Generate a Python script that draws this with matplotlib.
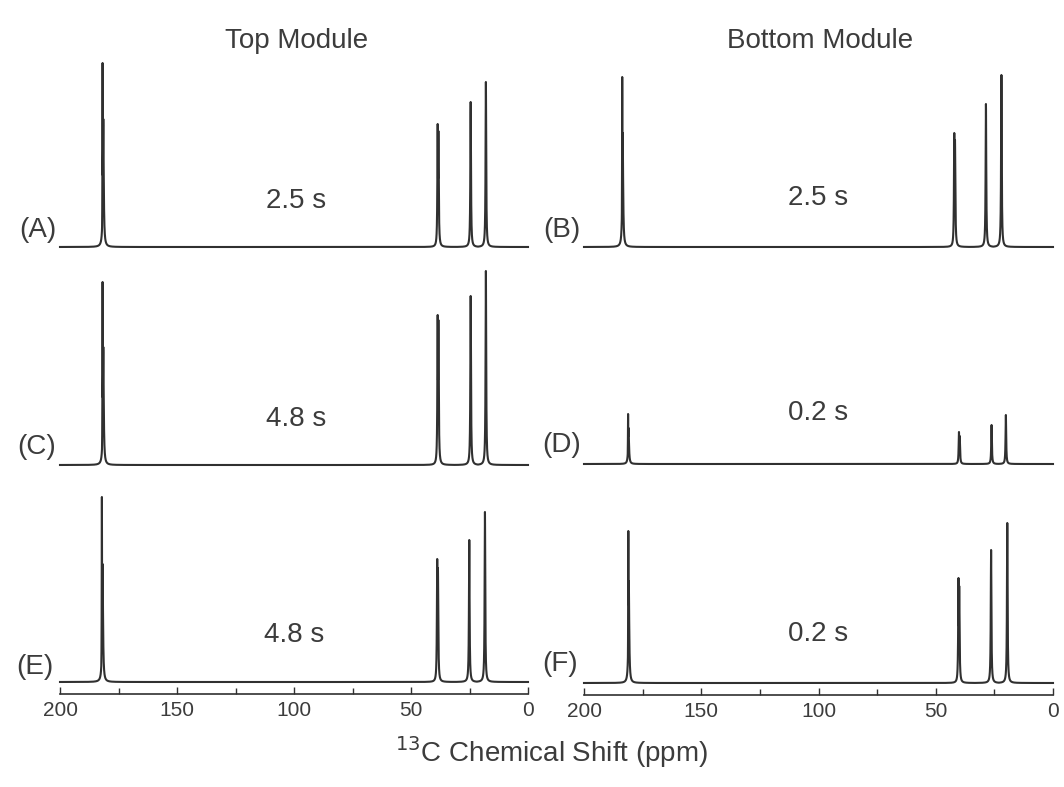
import numpy as np
import matplotlib
matplotlib.use("Agg")
import matplotlib.pyplot as plt
from matplotlib.ticker import MultipleLocator

plt.rcParams['font.family'] = ['Liberation Sans', 'DejaVu Sans']

# ---- data (ppm, apparent intensity) ----
panels = ['A', 'B', 'C', 'D', 'E', 'F']
times = ['2.5 s', '2.5 s', '4.8 s', '0.2 s', '4.8 s', '0.2 s']
col_titles = ['Top Module', 'Bottom Module']

ppm_A = [181.8, 181.5, 38.6, 38.3, 24.5, 18.0]
int_A = [184, 128, 123, 116, 145, 165]
ppm_B = [183.7, 183.5, 42.1, 41.8, 28.6, 22.0]
int_B = [170, 114, 114, 107, 143, 172]
ppm_C = [181.8, 181.5, 38.6, 38.3, 24.5, 18.0]
int_C = [183, 118, 150, 145, 169, 194]
ppm_D = [181.2, 181.0, 40.1, 39.8, 26.2, 20.1]
int_D = [50, 36, 32, 28, 39, 49]
ppm_E = [182.1, 181.8, 38.8, 38.5, 25.1, 18.4]
int_E = [185, 118, 123, 114, 142, 170]
ppm_F = [181.1, 180.9, 40.3, 40.0, 26.4, 19.5]
int_F = [152, 102, 105, 97, 133, 160]

line_width = [0.08, 0.22, 0.16, 0.18, 0.16, 0.16]   # half widths (ppm)

peaks = {'A': (ppm_A, int_A), 'B': (ppm_B, int_B), 'C': (ppm_C, int_C),
         'D': (ppm_D, int_D), 'E': (ppm_E, int_E), 'F': (ppm_F, int_F)}

x_ticks = [200, 150, 100, 50, 0]

# ---- layout (pixels) ----
W, H = 1064, 787
fig = plt.figure(figsize=(W / 100, H / 100), dpi=100)

col_x = [(60, 528), (584, 1053)]
row_base = [[247, 247], [465, 464], [682, 683]]
top_px = 205

ppm = np.linspace(200, 0, 20001)
color = '#303030'
tcolor = '#3c3c3c'

for i, p in enumerate(panels):
    r, c = divmod(i, 2)
    x0, x1 = col_x[c]
    base = row_base[r][c]
    pad = 12 if r == 2 else 6
    rect = [x0 / W, (H - (base + pad)) / H, (x1 - x0) / W, (pad + top_px) / H]
    ax = fig.add_axes(rect)
    pos, amp = peaks[p]
    y = np.zeros_like(ppm)
    for k, (p0, a0) in enumerate(zip(pos, amp)):
        g = line_width[k]
        y = np.maximum(y, a0 * g**2 / ((ppm - p0)**2 + g**2))
    ax.plot(ppm, y, color=color, lw=1.5, clip_on=False)
    ax.set_xlim(200, 0)
    ax.set_ylim(-pad, top_px)
    ax.set_yticks([])
    for s in ['top', 'right', 'left']:
        ax.spines[s].set_visible(False)
    if r == 2:
        ax.spines['bottom'].set_color(color)
        ax.spines['bottom'].set_linewidth(1.2)
        ax.set_xticks(x_ticks)
        ax.set_xticklabels([str(t) for t in x_ticks])
        ax.xaxis.set_minor_locator(MultipleLocator(25))
        ax.tick_params(axis='x', which='major', direction='in', length=5,
                       width=1.0, color=color, labelsize=15, pad=5,
                       labelcolor=tcolor)
        ax.tick_params(axis='x', which='minor', direction='in', length=4,
                       width=1.0, color=color)
    else:
        ax.spines['bottom'].set_visible(False)
        ax.set_xticks([])
    ax.patch.set_alpha(0)

# panel letters
letter_pos = {'A': (38, 230), 'B': (562, 230), 'C': (37, 447),
              'D': (562, 445), 'E': (35, 667), 'F': (560, 664)}
for p, (lx, ly) in letter_pos.items():
    fig.text(lx / W, 1 - ly / H, f'({p})', ha='center', va='center',
             fontsize=20, color=tcolor)

# time labels
time_pos = [(296, 201), (818, 198), (296, 419), (818, 413), (294, 635), (818, 634)]
for t, (tx, ty) in zip(times, time_pos):
    fig.text(tx / W, 1 - ty / H, t, ha='center', va='center',
             fontsize=20, color=tcolor)

# column titles
fig.text(297 / W, 1 - 41 / H, col_titles[0], ha='center', va='center',
         fontsize=20, color=tcolor)
fig.text(820 / W, 1 - 41 / H, col_titles[1], ha='center', va='center',
         fontsize=20, color=tcolor)

# x axis label
fig.text(552 / W, 1 - 752 / H, r'$^{13}$C Chemical Shift (ppm)', ha='center',
         va='center', fontsize=20, color=tcolor)

fig.savefig('out.png', dpi=100)
